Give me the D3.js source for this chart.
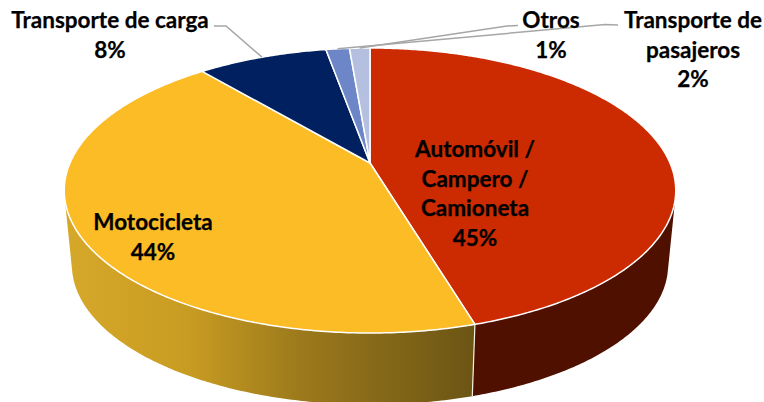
<!DOCTYPE html>
<html>
<head>
<meta charset="utf-8">
<script src="https://cdnjs.cloudflare.com/ajax/libs/d3/7.8.5/d3.min.js"></script>
<style>
  html, body { margin: 0; padding: 0; background: #fff; overflow: hidden; }
  text { font-family: Lato, sans-serif; font-weight: 700; font-size: 22.5px; fill: #000; stroke: #000; stroke-width: 0.25px; text-anchor: middle; }
</style>
</head>
<body>
<script>
///////////////////////////////////////////////////////
// data

var categories = ["Automóvil / Campero / Camioneta", "Motocicleta", "Transporte de carga", "Transporte de pasajeros", "Otros"];
var shares = [45.4, 43.5, 8.3, 1.5, 1.3];
var labelTexts = [
  ["Automóvil /", "Campero /", "Camioneta", "45%"],
  ["Motocicleta", "44%"],
  ["Transporte de carga", "8%"],
  ["Transporte de", "pasajeros", "2%"],
  ["Otros", "1%"]
];
var topColors = ["#cc2a00", "#fbbc26", "#00205f", "#6c86c8", "#b5bfe0"];

///////////////////////////////////////////////////////
// margins

var w = 764;
var h = 402;
var svg = d3.select("body").append("svg")
  .attr("id", "chart")
  .attr("width", w)
  .attr("height", h)
  .style("display", "block");

///////////////////////////////////////////////////////
// projection - the pie is a tilted disc, so a plain ellipse is not enough

var cx = 370, cy = 163;
var rx = 300, ry = 137.2, k = 0.193;
var depthScaleX = 0.975, depthScaleY = 0.98, bottomCy = 238;

function project(a, r) {
  var u = r * Math.sin(a), v = -r * Math.cos(a);
  var d = 1 - k * v; // near edge gets bigger
  return [cx + rx * u / d, cy + ry * v / d];
}
function projectBottom(a) {
  var p = project(a, 1);
  return [cx + (p[0] - cx) * depthScaleX, bottomCy + (p[1] - cy) * depthScaleY];
}
function arcAngles(a0, a1) {
  var n = Math.max(2, Math.ceil((a1 - a0) / 0.01)), out = [];
  for (var i = 0; i <= n; i++) out.push(a0 + (a1 - a0) * i / n);
  return out;
}

var line = d3.line();
var pie = d3.pie().sort(null);
var slices = pie(shares);

///////////////////////////////////////////////////////
// DOM

var defs = svg.append("defs");
var motoGrad = defs.append("linearGradient")
  .attr("id", "motoWall")
  .attr("gradientUnits", "userSpaceOnUse")
  .attr("x1", 66).attr("x2", 476).attr("y1", 0).attr("y2", 0);
motoGrad.append("stop").attr("offset", "0%").attr("stop-color", "#d6a82a");
motoGrad.append("stop").attr("offset", "30%").attr("stop-color", "#c89c22");
motoGrad.append("stop").attr("offset", "57%").attr("stop-color", "#9c7a1c");
motoGrad.append("stop").attr("offset", "100%").attr("stop-color", "#6b5414");

var wallFill = ["#4f1000", "url(#motoWall)", "#00133a", "#414f78", "#6c7286"];

///////////////////////////////////////////////////////
// plot

// a wall is many thin quads in ONE path: same winding on all of them, so
// nonzero fill gives their union with no seams and a correct silhouette
svg.append("g").attr("class", "walls")
  .selectAll("path")
  .data(slices)
  .enter().append("path")
  .attr("d", function(s) {
    return d3.pairs(arcAngles(s.startAngle, s.endAngle)).map(function(pair) {
      var quad = [project(pair[0], 1), project(pair[1], 1), projectBottom(pair[1]), projectBottom(pair[0])];
      if (d3.polygonArea(quad) < 0) quad.reverse();
      return line(quad) + "Z";
    }).join("");
  })
  .attr("fill", function(s) { return wallFill[s.index]; });

// seam between the two visible walls
var seam = slices[0].endAngle;
svg.append("path")
  .attr("d", line([project(seam, 1), projectBottom(seam)]))
  .attr("stroke", "#f4efe0")
  .attr("stroke-width", 1.2)
  .attr("fill", "none");

// top face
svg.append("g").attr("class", "top")
  .selectAll("path")
  .data(slices)
  .enter().append("path")
  .attr("d", function(s) {
    var pts = arcAngles(s.startAngle, s.endAngle).map(function(a) { return project(a, 1); });
    return line([[cx, cy]].concat(pts)) + "Z";
  })
  .attr("fill", function(s) { return topColors[s.index]; })
  .attr("stroke", "#fff")
  .attr("stroke-width", 1.5)
  .attr("stroke-linejoin", "round");

// leader lines
var leaders = [
  { slice: 2, via: [[226, 26], [214, 26]] },
  { slice: 3, via: [[605, 24.5], [618, 25]] },
  { slice: 4, via: [[507, 26], [518, 25.5]] }
];
svg.append("g").attr("class", "leaders")
  .selectAll("path")
  .data(leaders)
  .enter().append("path")
  .attr("d", function(d) {
    var s = slices[d.slice];
    return line([project((s.startAngle + s.endAngle) / 2, 1)].concat(d.via));
  })
  .attr("fill", "none")
  .attr("stroke", "#a6a6a6")
  .attr("stroke-width", 1.5);

// labels
var labelPos = [
  { x: 475, y: 157 },
  { x: 153, y: 230 },
  { x: 110, y: 28 },
  { x: 693, y: 28 },
  { x: 551, y: 28 }
];
var lineGap = 29.6;
svg.append("g").attr("class", "labels")
  .selectAll("text")
  .data(labelTexts)
  .enter().append("text")
  .attr("transform", function(d, i) { return "translate(" + labelPos[i].x + "," + labelPos[i].y + ")"; })
  .attr("aria-label", function(d, i) { return categories[i]; })
  .selectAll("tspan")
  .data(function(d) { return d; })
  .enter().append("tspan")
  .attr("x", 0)
  .attr("y", function(d, i) { return i * lineGap; })
  .text(function(d) { return d; });
</script>
</body>
</html>
